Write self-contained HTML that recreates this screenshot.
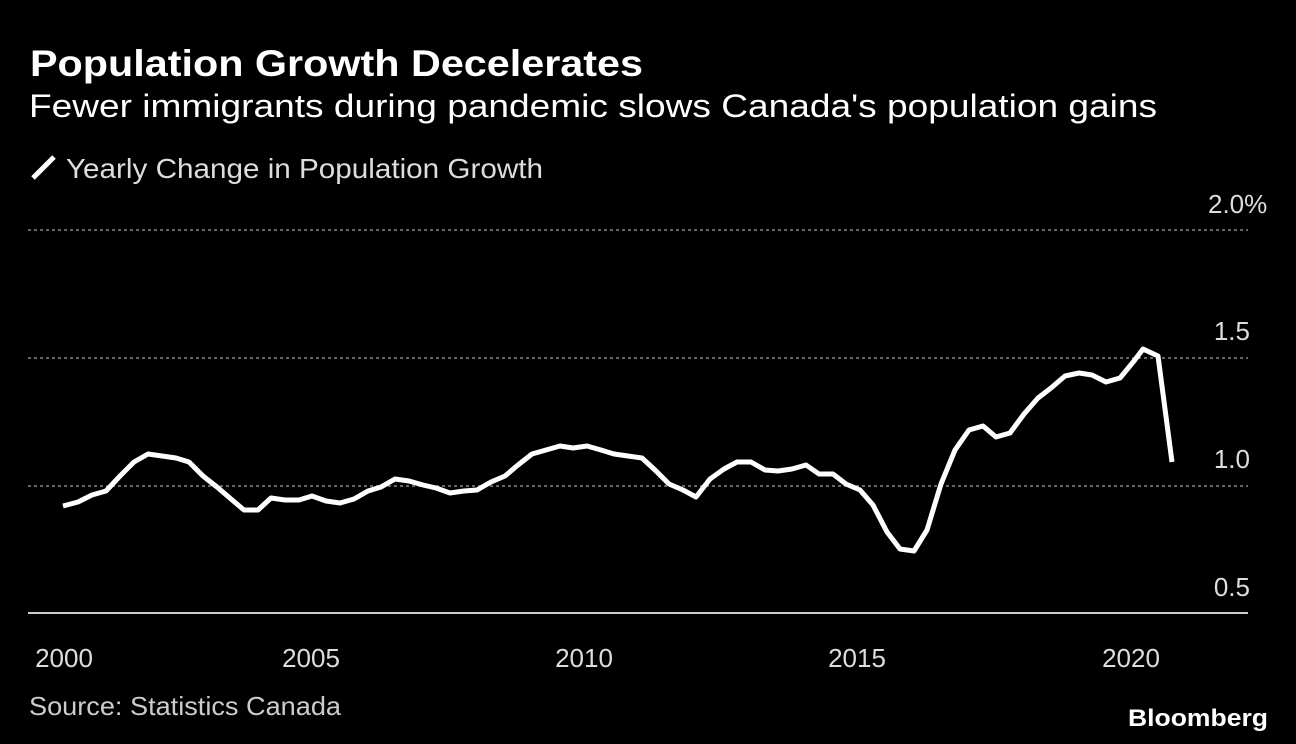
<!DOCTYPE html>
<html><head><meta charset="utf-8"><style>
html,body{margin:0;padding:0;background:#000;}
svg{display:block;font-family:"Liberation Sans",sans-serif;}
</style></head><body>
<svg width="1296" height="744" viewBox="0 0 1296 744">
<rect width="1296" height="744" fill="#000"/>
<text x="30" y="76" fill="#fff" font-size="37" font-weight="bold" textLength="613" lengthAdjust="spacingAndGlyphs">Population Growth Decelerates</text>
<text x="29" y="117" fill="#fff" font-size="32" textLength="1128" lengthAdjust="spacingAndGlyphs">Fewer immigrants during pandemic slows Canada's population gains</text>
<line x1="33" y1="178" x2="54" y2="157" stroke="#fff" stroke-width="5"/>
<text x="66" y="178" fill="#ddd" font-size="28" textLength="477" lengthAdjust="spacingAndGlyphs">Yearly Change in Population Growth</text>
<g stroke="#888" stroke-width="1.5" stroke-dasharray="3,3">
<line x1="28" y1="230" x2="1248" y2="230"/>
<line x1="28" y1="358" x2="1248" y2="358"/>
<line x1="28" y1="486" x2="1248" y2="486"/>
</g>
<line x1="28" y1="613" x2="1248" y2="613" stroke="#ccc" stroke-width="2"/>
<g fill="#ddd" font-size="26">
<text x="1208" y="213">2.0%</text>
<text x="1250" y="340" text-anchor="end">1.5</text>
<text x="1250" y="468" text-anchor="end">1.0</text>
<text x="1250" y="596" text-anchor="end">0.5</text>
</g>
<g fill="#ddd" font-size="26" text-anchor="middle">
<text x="64" y="667">2000</text>
<text x="311" y="667">2005</text>
<text x="584" y="667">2010</text>
<text x="857" y="667">2015</text>
<text x="1131" y="667">2020</text>
</g>
<polyline fill="none" stroke="#fff" stroke-width="5" stroke-linejoin="round" points="63,506 78,502 92,495 106,491 120,476 134,462 148,454 162,456 176,458 189,462 203,476 217,487 231,499 244,510 258,510 271,498 285,500 299,500 312,496 326,501 340,503 354,499 368,491 381,487 395,479 409,481 423,485 436,488 450,493 464,491 477,490 491,482 505,476 518,465 532,454 546,450 560,446 573,448 587,446 601,450 614,454 628,456 642,458 655,470 669,484 683,490 696,497 710,479 724,469 737,462 751,462 765,470 778,471 792,469 806,465 819,474 833,474 846,484 860,490 873,505 887,532 900,549 914,551 927,530 941,484 955,450 969,430 983,426 996,437 1010,433 1024,414 1038,398 1051,388 1065,376 1079,373 1092,375 1106,382 1120,378 1134,361 1143,349 1158,356 1172,462"/>
<text x="29" y="715" fill="#ccc" font-size="26" textLength="312" lengthAdjust="spacingAndGlyphs">Source: Statistics Canada</text>
<text x="1268" y="726" fill="#fff" font-size="24" font-weight="bold" text-anchor="end" textLength="140" lengthAdjust="spacingAndGlyphs">Bloomberg</text>
</svg>
</body></html>
